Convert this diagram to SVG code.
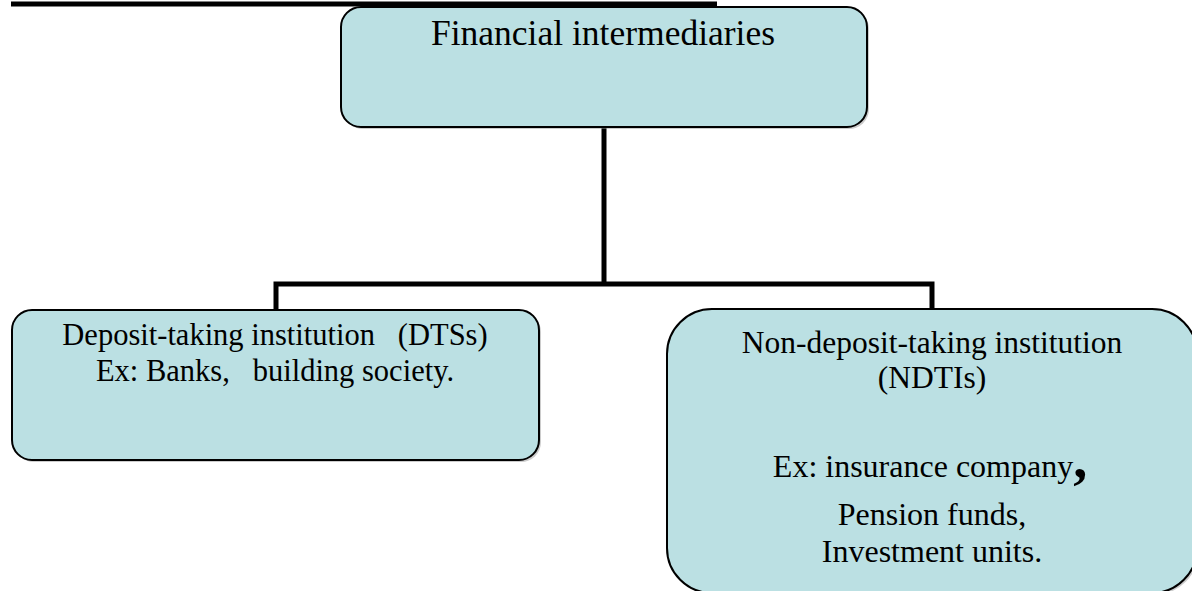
<svg xmlns="http://www.w3.org/2000/svg" width="1192" height="591" viewBox="0 0 1192 591">
<style>
.box{fill:#BBE0E3;stroke:#000;stroke-width:2}
.sh{fill:#9a9a9a;opacity:0.5}
.t{font-family:"Liberation Serif","Times New Roman",serif;fill:#000;text-anchor:middle;white-space:pre}
.conn{fill:none;stroke:#000;stroke-width:5}
</style>
<rect width="1192" height="591" fill="#fff"/>
<line x1="11" y1="4" x2="717" y2="4" stroke="#000" stroke-width="5"/>
<g id="connectors">
<path class="conn" d="M604 127 V284 M276 310 V284 H932 V310"/>
</g>
<g id="root">
<rect class="sh" x="343" y="9" width="526" height="120" rx="20"/>
<rect class="box" x="341" y="7" width="526" height="120" rx="20"/>
<text class="t" x="603" y="45" font-size="35.5">Financial intermediaries</text>
</g>
<g id="dti">
<rect class="sh" x="14" y="312" width="527" height="150" rx="20"/>
<rect class="box" x="12" y="310" width="527" height="150" rx="20"/>
<text class="t" x="275" y="345" font-size="30.5">Deposit-taking institution   (DTSs)</text>
<text class="t" x="275" y="381" font-size="30.5">Ex: Banks,   building society.</text>
</g>
<g id="ndti">
<rect class="sh" x="669" y="311" width="530" height="284" rx="45"/>
<rect class="box" x="667" y="309" width="530" height="284" rx="45"/>
<text class="t" x="932" y="353" font-size="31.5">Non-deposit-taking institution</text>
<text class="t" x="932" y="388" font-size="31.5">(NDTIs)</text>
<text class="t" x="930" y="477" font-size="32">Ex: insurance company<tspan font-size="56" font-weight="bold">,</tspan></text>
<text class="t" x="932" y="525" font-size="32">Pension funds,</text>
<text class="t" x="932" y="562" font-size="32">Investment units.</text>
</g>
</svg>
